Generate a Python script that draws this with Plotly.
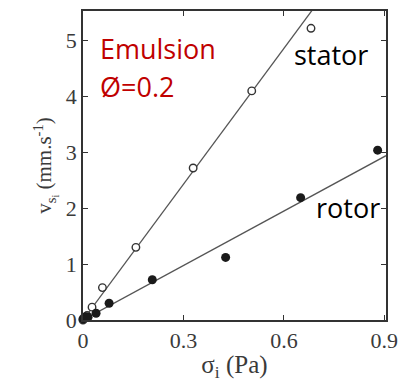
import plotly.graph_objects as go

# Measured interfacial velocities vs. stress (emulsion, phi = 0.2)
stator_sigma = [0.0, 0.005, 0.012, 0.027, 0.058, 0.158, 0.329, 0.504, 0.681]
stator_v = [0.0, 0.03, 0.08, 0.23, 0.58, 1.30, 2.72, 4.10, 5.22]

rotor_sigma = [0.0, 0.004, 0.008, 0.015, 0.039, 0.078, 0.207, 0.426, 0.650, 0.880]
rotor_v = [0.02, 0.04, 0.06, 0.05, 0.12, 0.30, 0.72, 1.12, 2.19, 3.04]

# Linear fits through the origin (slope in mm.s^-1 per Pa)
stator_slope = 8.1
rotor_slope = 3.25
fit_x_stator = [0.0, 0.70]
fit_x_rotor = [0.0, 0.905]

x_ticks = [0, 0.3, 0.6, 0.9]
x_tick_text = ["0", "0.3", "0.6", "0.9"]
y_ticks = [0, 1, 2, 3, 4, 5]

line_col = "#555555"
ink = "#333333"

fig = go.Figure()
fig.add_trace(go.Scatter(
    x=fit_x_stator, y=[stator_slope * x for x in fit_x_stator],
    mode="lines", line=dict(color=line_col, width=1.3), hoverinfo="skip"))
fig.add_trace(go.Scatter(
    x=fit_x_rotor, y=[rotor_slope * x for x in fit_x_rotor],
    mode="lines", line=dict(color=line_col, width=1.3), hoverinfo="skip"))
fig.add_trace(go.Scatter(
    x=stator_sigma, y=stator_v, mode="markers", cliponaxis=False,
    marker=dict(symbol="circle", size=7.5, color="white",
                line=dict(color="#333333", width=1.4))))
fig.add_trace(go.Scatter(
    x=rotor_sigma, y=rotor_v, mode="markers", cliponaxis=False,
    marker=dict(symbol="circle", size=9, color="#1a1a1a",
                line=dict(width=0))))

serif = "Liberation Serif, Times New Roman, serif"
sans = "Open Sans, Noto Sans, sans-serif"

fig.update_layout(
    width=407, height=383,
    margin=dict(l=83, r=14, t=9, b=63),
    paper_bgcolor="white", plot_bgcolor="white",
    showlegend=False,
    xaxis=dict(
        range=[0, 0.905], tickvals=x_ticks, ticktext=x_tick_text,
        ticks="inside", ticklen=5, tickwidth=1.2, tickcolor=ink,
        showline=True, linecolor=ink, linewidth=1.5, mirror="ticks",
        showgrid=False, zeroline=False,
        tickfont=dict(family=serif, size=22, color="#3a3a3a"),
        title=dict(text="σ<sub>i</sub> (Pa)", standoff=3,
                   font=dict(family=serif, size=25, color="#3a3a3a")),
    ),
    yaxis=dict(
        range=[0, 5.53], tickvals=y_ticks,
        ticks="inside", ticklen=5, tickwidth=1.2, tickcolor=ink,
        showline=True, linecolor=ink, linewidth=1.5, mirror="ticks",
        showgrid=False, zeroline=False,
        tickfont=dict(family=serif, size=22, color="#3a3a3a"),
        title=dict(text="v<sub>s<sub>i</sub></sub> (mm.s<sup>-1</sup>)", standoff=8,
                   font=dict(family=serif, size=21, color="#3a3a3a")),
    ),
    annotations=[
        dict(x=98, y=47, xref="paper", yref="paper", text="Emulsion",
             showarrow=False, xanchor="left", yanchor="middle",
             font=dict(family=sans, size=27, color="#c00000")),
        dict(x=98, y=85, xref="paper", yref="paper", text="Ø=0.2",
             showarrow=False, xanchor="left", yanchor="middle",
             font=dict(family=sans, size=27, color="#c00000")),
        dict(x=297, y=53, xref="paper", yref="paper", text="stator",
             showarrow=False, xanchor="left", yanchor="middle",
             font=dict(family=sans, size=27, color="black")),
        dict(x=319, y=207, xref="paper", yref="paper", text="rotor",
             showarrow=False, xanchor="left", yanchor="middle",
             font=dict(family=sans, size=27, color="black")),
    ],
)

# Place the text labels by pixel position within the plotting area
px_left, px_right, px_top, px_bottom = 83, 393, 9, 320
for a in fig.layout.annotations:
    a.x = (a.x - px_left) / (px_right - px_left)
    a.y = (px_bottom - a.y) / (px_bottom - px_top)

fig.write_html("out.html")
